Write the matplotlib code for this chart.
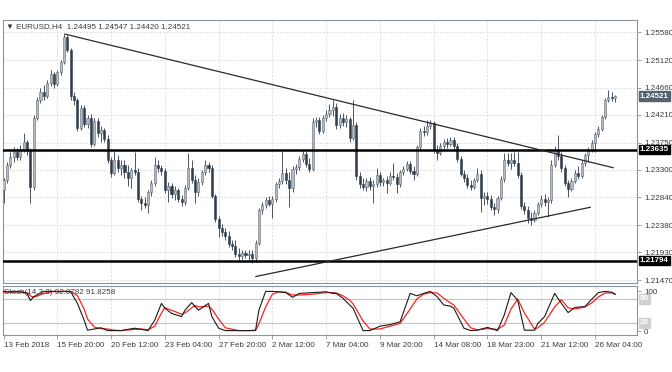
import matplotlib
matplotlib.use("Agg")
import matplotlib.pyplot as plt
import numpy as np

plt.rcParams['font.family'] = ['Liberation Sans', 'DejaVu Sans']

# ---------------- data ----------------
opens = [1.2296,1.2313,1.2338,1.2351,1.2360,1.2351,1.2363,1.2376,1.2363,1.2301,
         1.2416,1.2446,1.2459,1.2452,1.2474,1.2489,1.2472,1.2492,1.2509,1.2550,
         1.2529,1.2452,1.2446,1.2399,1.2432,1.2406,1.2416,1.2373,1.2411,1.2391,
         1.2396,1.2381,1.2346,1.2325,1.2346,1.2333,1.2338,1.2326,1.2317,1.2330,
         1.2326,1.2281,1.2275,1.2272,1.2293,1.2308,1.2338,1.2333,1.2328,1.2296,
         1.2303,1.2290,1.2296,1.2281,1.2276,1.2300,1.2333,1.2313,1.2293,1.2310,
         1.2326,1.2338,1.2333,1.2286,1.2248,1.2233,1.2227,1.2220,1.2207,1.2204,
         1.2190,1.2187,1.2192,1.2189,1.2190,1.2184,1.2208,1.2263,1.2272,1.2280,
         1.2273,1.2281,1.2306,1.2311,1.2325,1.2313,1.2300,1.2331,1.2335,1.2348,
         1.2356,1.2340,1.2331,1.2409,1.2413,1.2394,1.2416,1.2422,1.2429,1.2434,
         1.2404,1.2416,1.2409,1.2414,1.2383,1.2404,1.2320,1.2306,1.2301,1.2311,
         1.2303,1.2306,1.2321,1.2310,1.2313,1.2308,1.2320,1.2318,1.2306,1.2326,
         1.2331,1.2340,1.2328,1.2323,1.2368,1.2394,1.2393,1.2403,1.2408,1.2363,
         1.2358,1.2370,1.2376,1.2373,1.2379,1.2370,1.2348,1.2323,1.2317,1.2305,
         1.2301,1.2313,1.2323,1.2283,1.2286,1.2281,1.2268,1.2265,1.2283,1.2315,
         1.2346,1.2341,1.2346,1.2341,1.2321,1.2270,1.2263,1.2250,1.2247,1.2258,
         1.2273,1.2281,1.2276,1.2280,1.2338,1.2363,1.2353,1.2333,1.2308,1.2298,
         1.2311,1.2325,1.2320,1.2341,1.2355,1.2361,1.2374,1.2389,1.2398,1.2417,
         1.2446,1.2451,1.24495]
highs = [1.2317,1.2343,1.2360,1.2368,1.2366,1.2371,1.2391,1.2379,1.2366,1.2421,
         1.2451,1.2465,1.2470,1.2479,1.2495,1.2492,1.2495,1.2512,1.2555,1.2554,
         1.2532,1.2459,1.2449,1.2437,1.2437,1.2421,1.2422,1.2416,1.2416,1.2403,
         1.2399,1.2388,1.2351,1.2363,1.2355,1.2346,1.2346,1.2338,1.2333,1.2360,
         1.2333,1.2286,1.2285,1.2296,1.2313,1.2351,1.2346,1.2338,1.2333,1.2310,
         1.2308,1.2303,1.2300,1.2288,1.2305,1.2358,1.2346,1.2321,1.2317,1.2330,
         1.2346,1.2343,1.2338,1.2290,1.2253,1.2240,1.2233,1.2228,1.2213,1.2213,
         1.2200,1.2197,1.2197,1.2197,1.2197,1.2213,1.2267,1.2276,1.2285,1.2286,
         1.2286,1.2310,1.2317,1.2363,1.2333,1.2326,1.2336,1.2340,1.2353,1.2363,
         1.2361,1.2350,1.2416,1.2417,1.2417,1.2421,1.2429,1.2439,1.2446,1.2441,
         1.2422,1.2424,1.2421,1.2417,1.2446,1.2409,1.2326,1.2317,1.2317,1.2318,
         1.2313,1.2333,1.2326,1.2317,1.2320,1.2326,1.2341,1.2325,1.2330,1.2336,
         1.2345,1.2345,1.2336,1.2371,1.2399,1.2403,1.2413,1.2413,1.2411,1.2371,
         1.2374,1.2381,1.2383,1.2384,1.2384,1.2374,1.2353,1.2330,1.2323,1.2313,
         1.2317,1.2333,1.2330,1.2293,1.2293,1.2288,1.2275,1.2286,1.2320,1.2358,
         1.2358,1.2358,1.2360,1.2360,1.2326,1.2276,1.2270,1.2260,1.2263,1.2276,
         1.2288,1.2290,1.2285,1.2346,1.2370,1.2388,1.2360,1.2338,1.2313,1.2317,
         1.2330,1.2336,1.2346,1.2358,1.2368,1.2379,1.2393,1.2403,1.2421,1.2449,
         1.2462,1.2459,1.24547]
lows = [1.2275,1.2308,1.2333,1.2343,1.2346,1.2346,1.2360,1.2355,1.2275,1.2296,
        1.2413,1.2441,1.2446,1.2449,1.2469,1.2465,1.2469,1.2487,1.2505,1.2525,
        1.2446,1.2437,1.2394,1.2396,1.2401,1.2399,1.2368,1.2370,1.2384,1.2376,
        1.2376,1.2341,1.2318,1.2321,1.2326,1.2321,1.2317,1.2303,1.2300,1.2321,
        1.2276,1.2263,1.2267,1.2258,1.2286,1.2303,1.2326,1.2321,1.2291,1.2276,
        1.2283,1.2280,1.2276,1.2270,1.2272,1.2296,1.2308,1.2275,1.2286,1.2305,
        1.2321,1.2326,1.2283,1.2243,1.2218,1.2220,1.2213,1.2202,1.2197,1.2185,
        1.2180,1.2182,1.2184,1.2180,1.2176,1.2177,1.2205,1.2257,1.2267,1.2270,
        1.2250,1.2276,1.2300,1.2306,1.2306,1.2268,1.2293,1.2323,1.2330,1.2343,
        1.2335,1.2326,1.2328,1.2401,1.2389,1.2391,1.2411,1.2417,1.2419,1.2398,
        1.2399,1.2403,1.2401,1.2376,1.2379,1.2313,1.2300,1.2296,1.2295,1.2296,
        1.2275,1.2301,1.2303,1.2303,1.2291,1.2305,1.2313,1.2291,1.2301,1.2321,
        1.2328,1.2323,1.2313,1.2320,1.2363,1.2386,1.2388,1.2398,1.2358,1.2346,
        1.2355,1.2365,1.2366,1.2370,1.2365,1.2343,1.2320,1.2310,1.2300,1.2296,
        1.2298,1.2310,1.2260,1.2272,1.2273,1.2263,1.2255,1.2258,1.2280,1.2310,
        1.2336,1.2331,1.2336,1.2317,1.2265,1.2257,1.2242,1.2238,1.2243,1.2255,
        1.2268,1.2270,1.2252,1.2275,1.2335,1.2346,1.2326,1.2303,1.2285,1.2295,
        1.2308,1.2315,1.2317,1.2336,1.2343,1.2360,1.2360,1.2384,1.2394,1.2414,
        1.2442,1.2444,1.24420]
closes = [1.2313,1.2338,1.2351,1.2360,1.2351,1.2363,1.2376,1.2363,1.2301,1.2416,
          1.2446,1.2459,1.2452,1.2474,1.2489,1.2472,1.2492,1.2509,1.2550,1.2529,
          1.2452,1.2446,1.2399,1.2432,1.2406,1.2416,1.2373,1.2411,1.2391,1.2396,
          1.2381,1.2346,1.2325,1.2346,1.2333,1.2338,1.2326,1.2317,1.2330,1.2326,
          1.2281,1.2275,1.2272,1.2293,1.2308,1.2338,1.2333,1.2328,1.2296,1.2303,
          1.2290,1.2296,1.2281,1.2276,1.2300,1.2333,1.2313,1.2293,1.2310,1.2326,
          1.2338,1.2333,1.2286,1.2248,1.2233,1.2227,1.2220,1.2207,1.2204,1.2190,
          1.2187,1.2192,1.2189,1.2190,1.2184,1.2208,1.2263,1.2272,1.2280,1.2273,
          1.2281,1.2306,1.2311,1.2325,1.2313,1.2300,1.2331,1.2335,1.2348,1.2356,
          1.2340,1.2331,1.2409,1.2413,1.2394,1.2416,1.2422,1.2429,1.2434,1.2404,
          1.2416,1.2409,1.2414,1.2383,1.2404,1.2320,1.2306,1.2301,1.2311,1.2303,
          1.2306,1.2321,1.2310,1.2313,1.2308,1.2320,1.2318,1.2306,1.2326,1.2331,
          1.2340,1.2328,1.2323,1.2368,1.2394,1.2393,1.2403,1.2408,1.2363,1.2358,
          1.2370,1.2376,1.2373,1.2379,1.2370,1.2348,1.2323,1.2317,1.2305,1.2301,
          1.2313,1.2323,1.2283,1.2286,1.2281,1.2268,1.2265,1.2283,1.2315,1.2346,
          1.2341,1.2346,1.2341,1.2321,1.2270,1.2263,1.2250,1.2247,1.2258,1.2273,
          1.2281,1.2276,1.2280,1.2338,1.2363,1.2353,1.2333,1.2308,1.2298,1.2311,
          1.2325,1.2320,1.2341,1.2355,1.2361,1.2374,1.2389,1.2398,1.2417,1.2446,
          1.2451,1.2449,1.24521]

price_ticks = [1.25580, 1.25120, 1.24660, 1.24210, 1.23750, 1.23300, 1.22840, 1.22380, 1.21930, 1.21470]
date_tick_bars = [0, 16, 32, 48, 64, 80, 96, 112, 128, 144, 160, 176]
date_labels = ["13 Feb 2018", "15 Feb 20:00", "20 Feb 12:00", "23 Feb 04:00", "27 Feb 20:00",
               "2 Mar 12:00", "7 Mar 04:00", "9 Mar 20:00", "14 Mar 08:00", "18 Mar 23:00",
               "21 Mar 12:00", "26 Mar 04:00"]

hlines = [1.23635, 1.21794]
trend_down_bars = [18.3, 181.4]
trend_down_prices = [1.2555, 1.23334]
trend_up_bars = [75.1, 174.6]
trend_up_prices = [1.21529, 1.22677]

stoch_bars = [0,2,5,7,8,9,12,15,16,18,20,22,24,25,27,29,31,33,35,39,41,43,45,47,48,50,53,54,56,57,
              58,61,62,64,66,70,73,75,76,78,80,82,84,86,88,92,96,98,99,101,103,104,107,109,112,115,118,121,123,125,
              127,129,131,133,134,137,139,141,144,147,149,151,153,155,158,159,161,164,166,168,170,173,175,177,179,181,182]
stoch_k = [99,98,98,94,76,86,99,99,98,99,98,69,27,2,5,8,1,1,1,7,4,1,27,69,57,44,36,52,71,61,
           52,69,36,7,1,1,1,2,52,99,99,98,96,84,94,96,98,94,94,82,65,57,1,1,12,16,23,94,88,94,
           99,86,65,62,57,7,1,2,9,1,40,96,77,2,2,19,36,94,69,46,59,61,79,96,99,97,92.0782]
stoch_d = [97,97,98,96,88,84,94,99,99,99,99,88,55,30,10,6,5,2,1,4,5,3,12,45,58,52,42,45,58,64,
           60,62,55,30,8,1,1,1,18,60,92,98,97,90,90,92,96,96,95,88,77,68,25,5,5,12,19,55,80,92,
           96,95,82,70,65,30,8,3,6,4,15,55,80,45,5,8,22,60,78,58,55,60,70,85,95,95,91.8258]

# ---------------- figure ----------------
W, H = 672, 372
fig = plt.figure(figsize=(W / 100, H / 100), dpi=100)
fig.patch.set_facecolor('white')

def frac_box(x0, y0, x1, y1):
    return [x0 / W, 1 - y1 / H, (x1 - x0) / W, (y1 - y0) / H]

ax = fig.add_axes(frac_box(3, 20, 637, 283))
ax2 = fig.add_axes(frac_box(3, 286, 637, 335))

txt_col = '#3a3a3a'
frame_col = '#8a949c'
grid_col = '#d2d6da'
fs = 5.8

n = len(closes)
idx = np.arange(n)
o = np.array(opens); h = np.array(highs); l = np.array(lows); c = np.array(closes)
bull = c >= o

xlim = (-0.15, 188.5)
ax.set_xlim(*xlim)
ax.set_ylim(1.21421, 1.25784)

# grid
for b in date_tick_bars[1:]:
    ax.axvline(b, color=grid_col, lw=0.6, ls=(0, (2, 2)), zorder=0)
    ax2.axvline(b, color=grid_col, lw=0.6, ls=(0, (2, 2)), zorder=0)
for p in price_ticks:
    ax.axhline(p, color=grid_col, lw=0.6, ls=(0, (2, 2)), zorder=0)

# candles
bull_face, bull_edge = '#b4bbc2', '#5f6a75'
bear_face = '#2f3d4c'
wick_col = '#4a5561'
ax.vlines(idx, l, h, color=wick_col, lw=0.7, zorder=2)
bottoms = np.minimum(o, c)
heights = np.maximum(np.abs(c - o), 0.00003)
ax.bar(idx[bull], heights[bull], bottom=bottoms[bull], width=0.62,
       color=bull_face, edgecolor=bull_edge, linewidth=0.4, zorder=3)
ax.bar(idx[~bull], heights[~bull], bottom=bottoms[~bull], width=0.62,
       color=bear_face, edgecolor=bear_face, linewidth=0.4, zorder=3)

# horizontal levels and trend lines
for hv in hlines:
    ax.axhline(hv, color='black', lw=1.8, zorder=4)
ax.plot(trend_down_bars, trend_down_prices, color='#2a2a2a', lw=0.9, zorder=4)
ax.plot(trend_up_bars, trend_up_prices, color='#2a2a2a', lw=0.9, zorder=4)

# axes styling main
for sp in ax.spines.values():
    sp.set_color(frame_col); sp.set_linewidth(0.8)
ax.set_xticks([])
ax.yaxis.tick_right()
ax.set_yticks(price_ticks)
ax.set_yticklabels([f"{p:.5f}" for p in price_ticks])
ax.tick_params(axis='y', length=3, width=0.6, color=frame_col, pad=2,
               labelsize=fs, labelcolor=txt_col)

# right boxed labels
def box_label(axis, yv, text, fc, tc):
    axis.annotate(text, xy=(1.0, yv), xycoords=('axes fraction', 'data'),
                  xytext=(2, 0), textcoords='offset points', ha='left', va='center',
                  fontsize=fs, color=tc, fontweight='bold',
                  bbox=dict(boxstyle='square,pad=0.15', fc=fc, ec=fc), zorder=10,
                  annotation_clip=False)

box_label(ax, closes[-1], f"{closes[-1]:.5f}", '#55626e', 'white')
for hv in hlines:
    box_label(ax, hv, f"{hv:.5f}", 'black', 'white')

ax.text(0.004, 0.975,
        "\u25BC EURUSD,H4  %.5f %.5f %.5f %.5f" % (opens[-1], highs[-1], lows[-1], closes[-1]),
        transform=ax.transAxes, ha='left', va='center', fontsize=fs, color=txt_col, zorder=10)

# ---------------- stochastic ----------------
ax2.set_xlim(*xlim)
ax2.set_ylim(-10, 112.5)
ax2.axhline(80, color='#c4c4c4', lw=0.8, zorder=1)
ax2.axhline(20, color='#c4c4c4', lw=0.8, zorder=1)
ax2.plot(stoch_bars, stoch_d, color='#ff2020', lw=0.9, zorder=3)
ax2.plot(stoch_bars, stoch_k, color='#1a1a1a', lw=0.8, zorder=4)
for sp in ax2.spines.values():
    sp.set_color(frame_col); sp.set_linewidth(0.8)
ax2.yaxis.tick_right()
ax2.set_yticks([100, 0])
ax2.set_yticklabels(['100', '0'])
ax2.tick_params(axis='y', length=3, width=0.6, color=frame_col, pad=2,
                labelsize=fs, labelcolor=txt_col)
for lv in (80, 20):
    box_label(ax2, lv, str(lv), '#d0d0d0', 'white')
ax2.set_xticks(date_tick_bars)
ax2.set_xticklabels(date_labels, ha='left')
ax2.tick_params(axis='x', length=3, width=0.6, color=frame_col, pad=2,
                labelsize=fs, labelcolor=txt_col)
ax2.text(0.002, 0.86, "Stoch(14,3,3) %.4f %.4f" % (stoch_k[-1], stoch_d[-1]),
         transform=ax2.transAxes, ha='left', va='center', fontsize=fs, color=txt_col, zorder=10)

fig.savefig('out.png', dpi=100, facecolor='white')
